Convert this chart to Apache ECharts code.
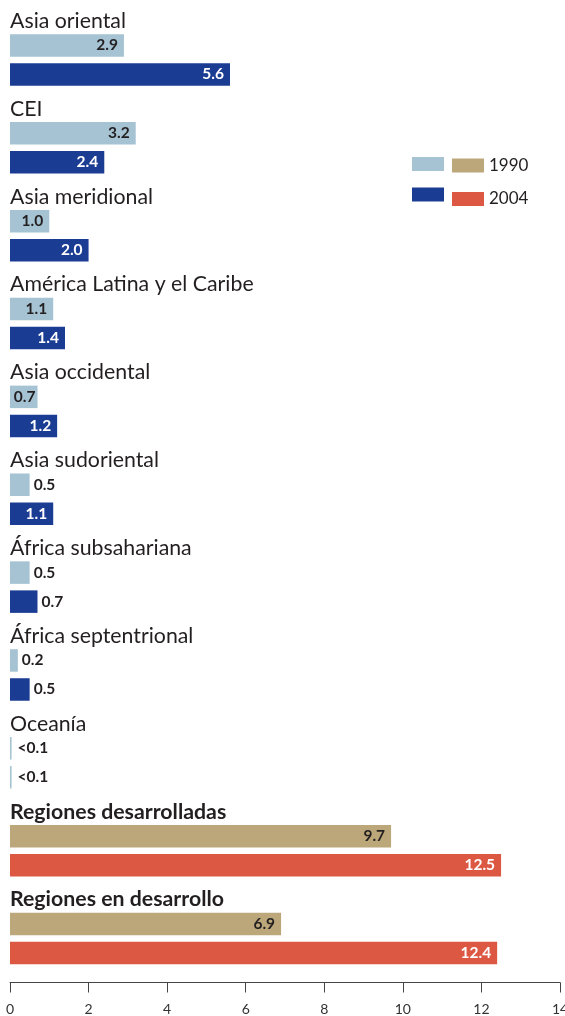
<!DOCTYPE html>
<html><head><meta charset="utf-8">
<script src="https://cdn.jsdelivr.net/npm/echarts@6/dist/echarts.min.js"></script>
<style>html,body{margin:0;padding:0;background:#fff}#c{width:565px;height:1016px}</style>
</head><body><div id="c"></div>
<script>
var categories = ['Asia oriental','CEI','Asia meridional','América Latina y el Caribe','Asia occidental','Asia sudoriental','África subsahariana','África septentrional','Oceanía','Regiones desarrolladas','Regiones en desarrollo'];
var values1990 = [2.9,3.2,1.0,1.1,0.7,0.5,0.5,0.2,0.04,9.7,6.9];
var values2004 = [5.6,2.4,2.0,1.4,1.2,1.1,0.7,0.5,0.04,12.5,12.4];
var aggregateStart = 9; // last two rows are aggregates
var xTicks = [0,2,4,6,8,10,12,14];

var FONT = 'Lato, "Open Sans", sans-serif';
var DARK = '#231f20';
var C_LB = '#a5c3d3', C_DB = '#1b3c93', C_TAN = '#bca77a', C_RED = '#dc5842';

function fmt(v){ return v < 0.1 ? '<0.1' : v.toFixed(1); }

function buildData(vals, isAgg, threshold, insideColor){
  return vals.map(function(v, i){
    var agg = i >= aggregateStart;
    if (agg !== isAgg) return '-';
    var inside = v >= threshold;
    var item = {
      value: v,
      label: {
        position: inside ? 'insideRight' : 'right',
        distance: inside ? (v < 1 ? 2 : 6) : (v < 0.1 ? 6 : 4),
        color: inside ? insideColor : DARK
      }
    };
    if (v < 0.1) item.itemStyle = { color: C_LB };
    return item;
  });
}

var labelBase = { show: true, fontFamily: FONT, fontSize: 15.5, fontWeight: 'bold',
  formatter: function(p){ return fmt(p.value); } };

function bar(name, stack, color, data){
  return { name: name, type: 'bar', stack: stack, barWidth: 22.5, barGap: '29%',
    itemStyle: { color: color }, label: labelBase, data: data, animation: false };
}

var chart = echarts.init(document.getElementById('c'), null, {renderer: 'canvas'});
chart.setOption({
  animation: false,
  grid: { left: 10, right: 5, top: 16, bottom: 33.5, containLabel: false, outerBoundsMode: 'none' },
  xAxis: {
    type: 'value', min: 0, max: 14, interval: 2,
    axisLine: { show: true, lineStyle: { color: '#444', width: 1 } },
    axisTick: { show: true, length: 10, lineStyle: { color: '#444' } },
    splitLine: { show: false },
    axisLabel: { color: '#333', fontFamily: FONT, fontSize: 14, margin: 20,
      formatter: function(v){ return xTicks.indexOf(v) >= 0 ? String(v) : ''; } }
  },
  yAxis: {
    type: 'category', inverse: true, data: categories,
    axisLine: { show: false }, axisTick: { show: false },
    axisLabel: {
      inside: true, margin: 0, verticalAlign: 'bottom', align: 'left',
      padding: [0, 0, 28, 0],
      formatter: function(v, i){ return (i >= aggregateStart ? '{b|' : '{n|') + v + '}'; },
      rich: {
        n: { fontFamily: FONT, fontSize: 21.3, color: DARK, lineHeight: 22 },
        b: { fontFamily: FONT, fontSize: 21.3, fontWeight: 'bold', color: DARK, lineHeight: 22 }
      }
    }
  },
  legend: [
    { data: ['r1990','r2004'], orient: 'vertical', left: 407, top: 152, itemWidth: 32, itemHeight: 14,
      itemGap: 16.5, icon: 'rect', selectedMode: false, formatter: function(){ return ''; },
      textStyle: { fontSize: 17, lineHeight: 14 } },
    { data: ['d1990','d2004'], orient: 'vertical', left: 447, top: 152, itemWidth: 32, itemHeight: 14,
      itemGap: 16.5, icon: 'rect', selectedMode: false,
      formatter: function(n){ return n.slice(1); },
      textStyle: { fontFamily: FONT, fontSize: 17, lineHeight: 14, color: DARK } }
  ],
  series: [
    bar('r1990', 'a', C_LB, buildData(values1990, false, 0.7, DARK)),
    bar('d1990', 'a', C_TAN, buildData(values1990, true, 0.7, DARK)),
    bar('r2004', 'b', C_DB, buildData(values2004, false, 1.0, '#fff')),
    bar('d2004', 'b', C_RED, buildData(values2004, true, 1.0, '#fff'))
  ]
});
</script></body></html>
